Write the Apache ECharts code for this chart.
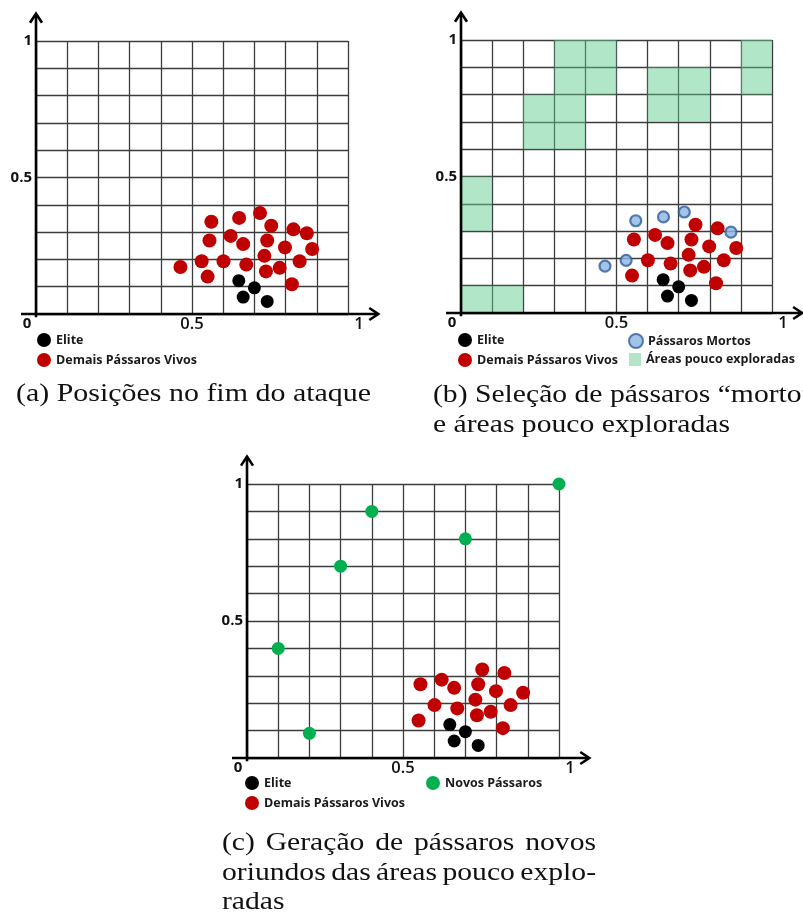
<!DOCTYPE html>
<html><head><meta charset="utf-8">
<script src="https://cdn.jsdelivr.net/npm/echarts@6/dist/echarts.min.js"></script>
<style>html,body{margin:0;padding:0;background:#fff}#c{width:803px;height:913px}</style>
</head><body><div id="c"></div>
<script>
// ---------- data ----------
const eliteBirds = [[0.650,0.122],[0.700,0.096],[0.664,0.062],[0.741,0.046]];
const aliveBirds = [[0.550,0.137],[0.556,0.269],[0.601,0.193],[0.624,0.286],[0.664,0.256],[0.674,0.181],
  [0.754,0.323],[0.741,0.269],[0.732,0.213],[0.737,0.156],[0.781,0.169],[0.798,0.244],[0.825,0.310],
  [0.885,0.238],[0.845,0.193],[0.820,0.109]];
const deadBirds = [[0.463,0.172],[0.531,0.193],[0.562,0.338],[0.651,0.352],[0.718,0.370],[0.868,0.296]];
const newBirds = [[0.1,0.4],[0.2,0.09],[0.3,0.7],[0.4,0.9],[0.7,0.8],[1.0,1.0]];
// lower-left corners of poorly explored cells (cell size 0.1)
const sparseCells = [[0.3,0.9],[0.4,0.9],[0.3,0.8],[0.4,0.8],[0.2,0.7],[0.3,0.7],[0.2,0.6],[0.3,0.6],
  [0.6,0.8],[0.7,0.8],[0.6,0.7],[0.7,0.7],[0.9,0.9],[0.9,0.8],[0.0,0.4],[0.0,0.3],[0.0,0.0],[0.1,0.0]];
const cellSize = 0.1;
const xTickLabels = {0:'0', 0.5:'0.5', 1:'1'};
const yTickLabels = {0.5:'0.5', 1:'1'};
const names = {elite:'Elite', alive:'Demais Pássaros Vivos', dead:'Pássaros Mortos', areas:'Áreas pouco exploradas', fresh:'Novos Pássaros'};
const captionA = '(a) Posições no fim do ataque';
const captionB = ['(b) Seleção de pássaros “morto”', 'e áreas pouco exploradas'];
const captionC = ['(c) Geração de pássaros novos', 'oriundos das áreas pouco explo-', 'radas'];

// ---------- style ----------
const RED = '#c00000', BLACK = '#000000', GREEN = '#00b050', BLUE = '#8db4e3', BLUE_B = '#2f5f98', AREA = '#b3e6c8';
const SANS = '"Open Sans", "DejaVu Sans", sans-serif';
const grids = [
  {left:36, top:41, width:312, height:273},
  {left:461, top:40, width:311, height:273},
  {left:247, top:484, width:312, height:274}
];

function lbl(map, v){
  for (const k in map){ if (Math.abs(v - (+k)) < 1e-6) return map[k]; }
  return null;
}
const xRichBase = {fontFamily:SANS, fontSize:16.5, fontWeight:600, color:'#111'};
function xAxisFor(i){
  return {type:'value', gridIndex:i, min:0, max:1, interval:0.1,
    axisLine:{show:false}, axisTick:{show:false},
    splitLine:{show:true, lineStyle:{color:'#3c3c3c', width:1.3}},
    axisLabel:{margin:2, formatter:v=>{
        const t = lbl(xTickLabels, v); if (t===null) return '';
        if (v < 0.25) return '{z|'+t+'}';
        if (v > 0.75) return '{r|'+t+'}';
        return '{n|'+t+'}';
      },
      rich:{n:Object.assign({},xRichBase), z:Object.assign({padding:[0,18,0,0]},xRichBase, {fontSize:15, fontWeight:'bold'}), r:Object.assign({padding:[0,0,0,22]},xRichBase)}
    }};
}
function yAxisFor(i){
  return {type:'value', gridIndex:i, min:0, max:1, interval:0.1,
    axisLine:{show:false}, axisTick:{show:false},
    splitLine:{show:true, lineStyle:{color:'#3c3c3c', width:1.3}},
    axisLabel:{margin:4, fontFamily:SANS, fontSize:15, fontWeight:'bold', color:'#111',
      formatter:v=>{ const t = lbl(yTickLabels, v); return t===null?'':t; }}};
}
function scatter(i, name, data, color, size, extra){
  return Object.assign({type:'scatter', name, xAxisIndex:i, yAxisIndex:i, data, symbol:'circle', symbolSize:size,
    itemStyle:{color, opacity:1}, emphasis:{disabled:true}, silent:true}, extra||{});
}
const series = [
  // (a)
  scatter(0, names.alive, aliveBirds.concat(deadBirds), RED, 14),
  scatter(0, names.elite, eliteBirds, BLACK, 13),
  // (b)
  {type:'custom', name:names.areas, xAxisIndex:1, yAxisIndex:1, data:sparseCells, silent:true,
    itemStyle:{color:AREA},
    renderItem:(params, api)=>{
      const x = api.value(0), y = api.value(1);
      const p1 = api.coord([x, y + cellSize]);
      const p2 = api.coord([x + cellSize, y]);
      return {type:'rect', shape:{x:p1[0], y:p1[1], width:p2[0]-p1[0], height:p2[1]-p1[1]},
        style:{fill:'rgba(100,205,145,0.5)'}};
    }},
  scatter(1, names.alive, aliveBirds, RED, 14),
  scatter(1, names.dead, deadBirds, BLUE, 11, {itemStyle:{color:BLUE, borderColor:BLUE_B, borderWidth:2.2}}),
  scatter(1, names.elite, eliteBirds, BLACK, 13),
  // (c)
  scatter(2, names.alive, aliveBirds, RED, 14),
  scatter(2, names.fresh, newBirds, GREEN, 13),
  scatter(2, names.elite, eliteBirds, BLACK, 13)
];
const legText = {fontFamily:SANS, fontSize:12.5, fontWeight:'bold', color:'#1a1a1a'};
function leg(left, top, data, w, h){
  return {left, top, orient:'vertical', itemWidth:w||14, itemHeight:h||14, itemGap:6, selectedMode:false,
    textStyle:legText, data, padding:0};
}
const option = {
  animation:false,
  backgroundColor:'#fff',
  grid:grids,
  xAxis:[xAxisFor(0), xAxisFor(1), xAxisFor(2)],
  yAxis:[yAxisFor(0), yAxisFor(1), yAxisFor(2)],
  legend:[
    leg(37, 333, [names.elite, names.alive]),
    leg(458, 333, [names.elite, names.alive]),
    leg(628, 333, [names.dead]),
    leg(629, 353, [{name:names.areas, icon:'rect', itemStyle:{color:AREA}}], 12, 13),
    leg(245, 776, [names.elite, names.alive]),
    leg(426, 776, [names.fresh])
  ],
  series
};
const chart = echarts.init(document.getElementById('c'), null, {renderer:'canvas'});
chart.setOption(option);

// ---------- axes with arrows (computed from the chart's own scales) ----------
const g = [];
const ext = {x0:-0.048, x1:1.097, y0:-0.012, y1:1.10};
for (let i=0;i<3;i++){
  const c = p => chart.convertToPixel({gridIndex:i}, p);
  const xs = c([ext.x0,0]), xe = c([ext.x1,0]), ys = c([0,ext.y0]), ye = c([0,ext.y1]);
  const st = {stroke:'#000', lineWidth:2.6, fill:null, lineJoin:'miter'};
  g.push({type:'line', z:100, shape:{x1:xs[0],y1:xs[1],x2:xe[0]-1,y2:xe[1]}, style:st});
  g.push({type:'line', z:100, shape:{x1:ys[0],y1:ys[1],x2:ye[0],y2:ye[1]+1}, style:st});
  g.push({type:'polyline', z:100, shape:{points:[[xe[0]-9,xe[1]-6],[xe[0],xe[1]],[xe[0]-9,xe[1]+6]]}, style:st});
  g.push({type:'polyline', z:100, shape:{points:[[ye[0]-6,ye[1]+9],[ye[0],ye[1]],[ye[0]+6,ye[1]+9]]}, style:st});
}
// ---------- captions ----------
const CAP_FONT = '25px "Liberation Serif", "DejaVu Serif", serif';
const mctx = document.createElement('canvas').getContext('2d');
function tw(t){ mctx.font = CAP_FONT; return mctx.measureText(t).width; }
const sx = 297 / tw(captionB[1]);
function capLine(text, x, y, width){
  const s = width ? width / tw(text) : sx;
  g.push({type:'text', x, y, scaleX:s, z:100, style:{text, font:CAP_FONT, fill:'#111', textVerticalAlign:'middle', textAlign:'left'}});
}
function capJustified(text, x, y, width){
  const words = text.split(' ');
  const ws = words.map(w => tw(w) * sx);
  const total = ws.reduce((a,b)=>a+b,0);
  const gap = (width - total) / (words.length - 1);
  let cx = x;
  words.forEach((w, k) => {
    g.push({type:'text', x:cx, y, scaleX:sx, z:100, style:{text:w, font:CAP_FONT, fill:'#111', textVerticalAlign:'middle', textAlign:'left'}});
    cx += ws[k] + gap;
  });
}
capLine(captionA, 16, 394, 355);
capLine(captionB[0], 433, 395);
capLine(captionB[1], 433, 425);
capJustified(captionC[0], 222, 843, 374);
capJustified(captionC[1], 222, 873, 374);
capLine(captionC[2], 222, 902);
chart.setOption({graphic:g});
</script></body></html>
